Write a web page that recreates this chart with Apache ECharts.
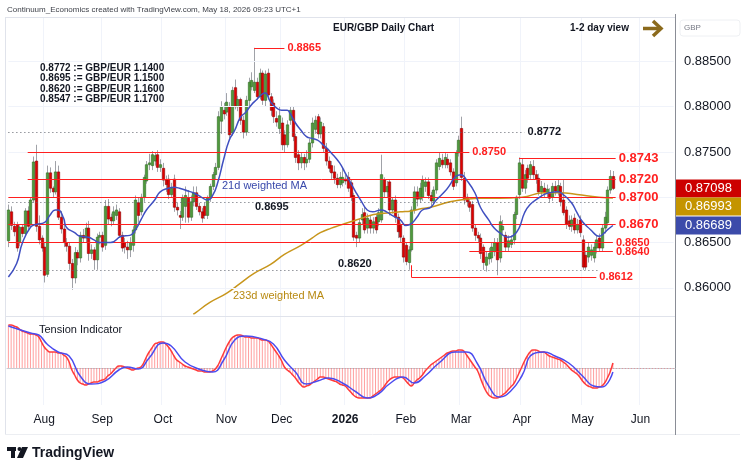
<!DOCTYPE html>
<html>
<head>
<meta charset="utf-8">
<script src="https://cdn.jsdelivr.net/npm/echarts@6/dist/echarts.min.js"></script>
<style>
  body { margin: 0; padding: 0; background: #fff; }
  #chart { width: 750px; height: 473px; }
</style>
</head>
<body>
<div id="chart"></div>
<script>
// EUR/GBP daily candles, one row per trading day from 15 Jul 2025: [open, high, low, close]
const ohlc = [
  [0.8652,0.8692,0.8645,0.8686],[0.8684,0.8690,0.8664,0.8669],[0.8668,0.8673,0.8657,0.8662],[0.8670,0.8673,0.8640,0.8644],[0.8650,0.8669,0.8646,0.8667],
  [0.8667,0.8670,0.8656,0.8660],[0.8660,0.8688,0.8657,0.8685],[0.8685,0.8690,0.8664,0.8668],[0.8670,0.8700,0.8666,0.8697],[0.8697,0.8745,0.8694,0.8739],
  [0.8740,0.8758,0.8662,0.8668],[0.8668,0.8680,0.8648,0.8653],[0.8655,0.8658,0.8640,0.8644],[0.8645,0.8650,0.8606,0.8614],[0.8615,0.8735,0.8612,0.8727],
  [0.8727,0.8733,0.8705,0.8710],[0.8710,0.8712,0.8700,0.8706],[0.8706,0.8740,0.8703,0.8728],[0.8728,0.8735,0.8675,0.8678],[0.8678,0.8685,0.8660,0.8665],
  [0.8665,0.8670,0.8645,0.8650],[0.8650,0.8655,0.8640,0.8646],[0.8646,0.8650,0.8620,0.8627],[0.8627,0.8632,0.8598,0.8611],[0.8611,0.8645,0.8605,0.8639],
  [0.8639,0.8642,0.8625,0.8633],[0.8633,0.8662,0.8628,0.8658],[0.8658,0.8665,0.8650,0.8655],[0.8655,0.8672,0.8650,0.8666],[0.8666,0.8674,0.8630,0.8638],
  [0.8638,0.8648,0.8632,0.8642],[0.8642,0.8645,0.8620,0.8631],[0.8631,0.8660,0.8620,0.8656],[0.8656,0.8662,0.8648,0.8658],[0.8658,0.8662,0.8640,0.8645],
  [0.8647,0.8697,0.8642,0.8690],[0.8690,0.8698,0.8670,0.8676],[0.8678,0.8682,0.8668,0.8674],[0.8674,0.8690,0.8670,0.8684],[0.8680,0.8692,0.8675,0.8686],
  [0.8684,0.8688,0.8655,0.8658],[0.8658,0.8662,0.8640,0.8644],[0.8650,0.8655,0.8638,0.8645],[0.8645,0.8652,0.8632,0.8642],[0.8642,0.8656,0.8634,0.8650],
  [0.8647,0.8668,0.8640,0.8664],[0.8664,0.8702,0.8660,0.8697],[0.8694,0.8700,0.8672,0.8680],[0.8684,0.8704,0.8680,0.8700],[0.8700,0.8725,0.8695,0.8722],
  [0.8718,0.8740,0.8715,0.8736],[0.8736,0.8748,0.8730,0.8738],[0.8735,0.8751,0.8730,0.8747],[0.8740,0.8750,0.8735,0.8746],[0.8747,0.8752,0.8728,0.8733],
  [0.8733,0.8742,0.8728,0.8736],[0.8732,0.8738,0.8712,0.8719],[0.8719,0.8724,0.8706,0.8714],[0.8720,0.8725,0.8698,0.8703],[0.8703,0.8716,0.8700,0.8710],
  [0.8720,0.8725,0.8684,0.8689],[0.8689,0.8694,0.8680,0.8686],[0.8680,0.8685,0.8665,0.8678],[0.8678,0.8703,0.8674,0.8699],[0.8690,0.8712,0.8672,0.8702],
  [0.8699,0.8708,0.8672,0.8678],[0.8678,0.8702,0.8674,0.8695],[0.8695,0.8712,0.8690,0.8705],[0.8705,0.8712,0.8686,0.8690],[0.8690,0.8694,0.8680,0.8684],
  [0.8684,0.8688,0.8672,0.8677],[0.8690,0.8694,0.8676,0.8680],[0.8680,0.8702,0.8676,0.8699],[0.8699,0.8715,0.8695,0.8712],[0.8712,0.8728,0.8708,0.8725],
  [0.8725,0.8738,0.8720,0.8733],[0.8733,0.8795,0.8730,0.8789],[0.8784,0.8806,0.8770,0.8800],[0.8796,0.8804,0.8786,0.8792],[0.8794,0.8815,0.8790,0.8805],
  [0.8800,0.8805,0.8765,0.8769],[0.8771,0.8822,0.8768,0.8818],[0.8821,0.8830,0.8797,0.8800],[0.8800,0.8812,0.8795,0.8808],[0.8808,0.8810,0.8780,0.8785],
  [0.8785,0.8790,0.8765,0.8772],[0.8772,0.8812,0.8768,0.8807],[0.8807,0.8832,0.8800,0.8827],[0.8822,0.8838,0.8818,0.8829],[0.8818,0.8865,0.8815,0.8827],
  [0.8827,0.8832,0.8808,0.8811],[0.8811,0.8842,0.8808,0.8837],[0.8837,0.8840,0.8802,0.8807],[0.8807,0.8840,0.8800,0.8836],[0.8837,0.8842,0.8808,0.8813],
  [0.8811,0.8815,0.8790,0.8796],[0.8804,0.8808,0.8782,0.8789],[0.8787,0.8795,0.8778,0.8783],[0.8776,0.8800,0.8770,0.8790],[0.8782,0.8788,0.8752,0.8758],
  [0.8769,0.8774,0.8750,0.8758],[0.8758,0.8785,0.8755,0.8780],[0.8785,0.8800,0.8780,0.8796],[0.8796,0.8800,0.8762,0.8767],[0.8767,0.8770,0.8738,0.8744],
  [0.8747,0.8752,0.8730,0.8738],[0.8738,0.8750,0.8732,0.8744],[0.8744,0.8748,0.8730,0.8738],[0.8738,0.8752,0.8733,0.8742],[0.8742,0.8765,0.8738,0.8760],
  [0.8760,0.8788,0.8755,0.8782],[0.8775,0.8790,0.8770,0.8785],[0.8789,0.8792,0.8765,0.8770],[0.8770,0.8788,0.8765,0.8783],[0.8778,0.8782,0.8750,0.8754],
  [0.8754,0.8760,0.8735,0.8740],[0.8740,0.8745,0.8728,0.8732],[0.8735,0.8740,0.8720,0.8727],[0.8728,0.8735,0.8715,0.8721],[0.8721,0.8726,0.8710,0.8714],
  [0.8714,0.8728,0.8710,0.8722],[0.8716,0.8732,0.8712,0.8722],[0.8720,0.8725,0.8714,0.8718],[0.8722,0.8728,0.8706,0.8710],[0.8716,0.8720,0.8696,0.8700],
  [0.8702,0.8705,0.8652,0.8656],[0.8658,0.8662,0.8645,0.8655],[0.8655,0.8676,0.8650,0.8672],[0.8675,0.8688,0.8670,0.8681],[0.8683,0.8690,0.8660,0.8664],
  [0.8666,0.8682,0.8660,0.8677],[0.8675,0.8680,0.8660,0.8666],[0.8666,0.8678,0.8660,0.8673],[0.8678,0.8682,0.8660,0.8664],[0.8673,0.8688,0.8668,0.8683],
  [0.8675,0.8747,0.8672,0.8725],[0.8719,0.8722,0.8700,0.8706],[0.8706,0.8718,0.8700,0.8712],[0.8717,0.8720,0.8680,0.8686],[0.8686,0.8700,0.8682,0.8697],
  [0.8697,0.8702,0.8672,0.8678],[0.8678,0.8682,0.8655,0.8662],[0.8669,0.8672,0.8650,0.8656],[0.8655,0.8658,0.8628,0.8634],[0.8647,0.8650,0.8625,0.8629],
  [0.8628,0.8646,0.8620,0.8642],[0.8642,0.8690,0.8640,0.8686],[0.8686,0.8712,0.8682,0.8706],[0.8706,0.8712,0.8690,0.8698],[0.8698,0.8716,0.8694,0.8710],
  [0.8700,0.8724,0.8696,0.8719],[0.8712,0.8722,0.8706,0.8717],[0.8717,0.8722,0.8698,0.8702],[0.8702,0.8706,0.8690,0.8696],[0.8696,0.8712,0.8692,0.8708],
  [0.8708,0.8742,0.8704,0.8738],[0.8734,0.8750,0.8730,0.8743],[0.8741,0.8748,0.8732,0.8736],[0.8736,0.8750,0.8732,0.8744],[0.8742,0.8748,0.8732,0.8736],
  [0.8738,0.8742,0.8724,0.8728],[0.8728,0.8732,0.8708,0.8712],[0.8716,0.8752,0.8712,0.8749],[0.8749,0.8768,0.8745,0.8763],[0.8776,0.8789,0.8718,0.8722],
  [0.8721,0.8728,0.8692,0.8697],[0.8700,0.8704,0.8690,0.8695],[0.8695,0.8698,0.8684,0.8689],[0.8692,0.8696,0.8662,0.8666],[0.8666,0.8670,0.8652,0.8658],
  [0.8658,0.8662,0.8650,0.8655],[0.8655,0.8660,0.8632,0.8638],[0.8645,0.8648,0.8620,0.8628],[0.8625,0.8640,0.8618,0.8634],[0.8632,0.8644,0.8626,0.8638],
  [0.8633,0.8650,0.8628,0.8645],[0.8640,0.8655,0.8635,0.8650],[0.8650,0.8655,0.8614,0.8631],[0.8633,0.8680,0.8628,0.8673],[0.8664,0.8675,0.8658,0.8668],
  [0.8658,0.8662,0.8640,0.8645],[0.8645,0.8658,0.8640,0.8652],[0.8648,0.8658,0.8644,0.8653],[0.8653,0.8684,0.8648,0.8681],[0.8681,0.8702,0.8676,0.8700],
  [0.8703,0.8744,0.8698,0.8738],[0.8736,0.8743,0.8706,0.8710],[0.8710,0.8730,0.8704,0.8725],[0.8732,0.8736,0.8716,0.8721],[0.8725,0.8740,0.8720,0.8736],
  [0.8734,0.8741,0.8720,0.8725],[0.8725,0.8730,0.8715,0.8720],[0.8721,0.8726,0.8702,0.8706],[0.8706,0.8718,0.8700,0.8712],[0.8710,0.8716,0.8700,0.8705],
  [0.8705,0.8714,0.8700,0.8709],[0.8705,0.8710,0.8694,0.8699],[0.8700,0.8716,0.8696,0.8712],[0.8712,0.8718,0.8702,0.8707],[0.8706,0.8720,0.8702,0.8713],
  [0.8712,0.8716,0.8690,0.8695],[0.8697,0.8719,0.8680,0.8683],[0.8686,0.8690,0.8665,0.8670],[0.8674,0.8680,0.8664,0.8668],[0.8668,0.8680,0.8662,0.8675],
  [0.8677,0.8682,0.8660,0.8664],[0.8664,0.8676,0.8660,0.8670],[0.8675,0.8680,0.8656,0.8661],[0.8653,0.8658,0.8620,0.8623],[0.8636,0.8640,0.8620,0.8623],
  [0.8634,0.8650,0.8628,0.8645],[0.8636,0.8648,0.8630,0.8642],[0.8633,0.8650,0.8628,0.8645],[0.8644,0.8658,0.8638,0.8653],[0.8655,0.8660,0.8640,0.8644],
  [0.8644,0.8670,0.8640,0.8666],[0.8666,0.8684,0.8660,0.8678],[0.8672,0.8712,0.8668,0.8708],[0.8708,0.8730,0.8704,0.8723],[0.8723,0.8729,0.8708,0.87098]
];

// 21d weighted MA, read at [bar index, value]
const ma21 = [
  [0,0.8612],[3,0.8627],[5,0.8649],[8,0.8667],[10,0.8670],[13,0.8672],[15,0.8680],[17,0.8686],[18,0.8686],[20,0.8677],
  [21,0.8667],[24,0.8661],[26,0.8657],[29,0.8656],[31,0.8653],[33,0.8650],[37,0.8650],[41,0.8657],[44,0.8658],[46,0.8664],
  [48,0.8675],[50,0.8686],[53,0.8697],[55,0.8706],[58,0.8710],[60,0.8711],[62,0.8710],[65,0.8707],[67,0.8705],[70,0.8700],
  [72,0.8697],[74,0.8702],[76,0.8718],[78,0.8742],[80,0.8763],[82,0.8774],[84,0.8788],[86,0.8794],[88,0.8802],[90,0.8808],
  [92,0.8814],[93,0.8815],[95,0.8805],[97,0.8799],[99,0.8796],[101,0.8796],[102,0.8793],[104,0.8782],[106,0.8774],[108,0.8767],
  [110,0.8765],[112,0.8763],[114,0.8758],[117,0.8749],[120,0.8738],[122,0.8727],[124,0.8716],[126,0.8705],[128,0.8695],[130,0.8686],
  [132,0.8684],[135,0.8686],[137,0.8684],[139,0.8680],[142,0.8675],[144,0.8669],[146,0.8671],[148,0.8678],[150,0.8686],[153,0.8689],
  [155,0.8697],[158,0.8706],[160,0.8714],[162,0.8723],[164,0.8725],[166,0.8719],[169,0.8705],[171,0.8689],[174,0.8675],[176,0.8666],
  [178,0.8661],[181,0.8656],[183,0.8658],[185,0.8666],[187,0.8683],[189,0.8692],[192,0.8699],[194,0.8703],[196,0.8705],[199,0.8706],
  [201,0.8703],[204,0.8694],[206,0.8683],[208,0.8673],[211,0.8664],[213,0.8658],[214,0.8657],[216,0.8661],[217,0.8664],[219,0.86689]
];

// 233d weighted MA, read at [bar index, value]
const ma233 = [
  [67,0.8571],[68,0.8573],[73,0.8584],[79,0.8594],[84,0.8605],[89,0.8616],[95,0.8626],[100,0.8637],[106,0.8647],[110,0.8655],
  [113,0.8661],[117,0.8666],[120,0.8669],[124,0.8673],[128,0.8677],[131,0.8680],[135,0.8682],[138,0.8683],[142,0.8684],[146,0.8685],
  [149,0.8687],[153,0.8689],[160,0.8695],[166,0.8698],[171,0.8699],[178,0.8699],[186,0.8700],[194,0.8705],[200,0.8705],[206,0.8703],
  [214,0.8700],[219,0.86993]
];

// Tension Indicator, one value per bar
const tension = [
  43,43,42,41,39,37,36,35,34,34,
  33,31,26,21,18,16,16,16,15,15,
  13,11,6,-2,-7,-12,-15,-16,-17,-16,
  -15,-14,-14,-13,-12,-11,-8,-6,-3,0,
  2,2,1,0,-1,-2,-1,0,1,5,
  11,16,20,24,25,26,26,24,21,17,
  12,8,6,4,2,1,0,-1,-2,-3,
  -3,-4,-4,-4,-3,-1,3,9,15,21,
  26,30,32,33,33,32,31,31,30,30,
  30,29,28,28,27,24,20,16,12,7,
  1,-2,-4,-7,-10,-14,-17,-19,-18,-17,
  -15,-13,-11,-9,-9,-10,-11,-12,-13,-14,
  -16,-17,-18,-21,-24,-27,-29,-30,-30,-30,
  -30,-30,-28,-26,-24,-22,-19,-15,-12,-10,
  -9,-9,-9,-10,-13,-16,-18,-15,-12,-10,
  -7,-3,0,3,5,7,9,11,13,15,
  16,17,17,18,18,17,13,9,5,1,
  -3,-10,-17,-23,-27,-29,-30,-30,-29,-27,
  -25,-22,-19,-16,-11,-5,1,7,12,16,
  18,18,17,16,16,14,12,11,10,9,
  8,6,4,1,-2,-4,-6,-9,-13,-16,
  -18,-19,-20,-20,-19,-18,-15,-10,-4,5
];

// Tension signal line, read at [bar index, value]
const tensionSignal = [
  [0,42],[8,35],[11,33],[14,24],[18,16],[22,12],[26,-8],[30,-16],[35,-13],[40,-2],
  [43,1],[47,-1],[51,10],[56,25],[59,22],[64,6],[70,-2],[74,-4],[78,8],[82,28],
  [86,32],[92,29],[96,24],[100,8],[104,-4],[108,-16],[112,-13],[116,-10],[121,-15],[126,-24],
  [130,-30],[134,-26],[138,-16],[143,-9],[147,-15],[151,-8],[156,5],[162,16],[166,16],[170,4],
  [174,-18],[178,-29],[182,-23],[186,-8],[190,14],[194,16],[198,12],[203,5],[208,-8],[212,-18],
  [215,-19],[219,-4]
];

const priceTicks = [0.860, 0.865, 0.870, 0.875, 0.880, 0.885];
const priceLabels = [0.860, 0.865, 0.875, 0.880, 0.885]; // 0.870 sits under the price tags
const monthTicks = ['Aug', 'Sep', 'Oct', 'Nov', 'Dec', '2026', 'Feb', 'Mar', 'Apr', 'May', 'Jun'];
const levelNotes = ['0.8772 := GBP/EUR 1.1400', '0.8695 := GBP/EUR 1.1500', '0.8620 := GBP/EUR 1.1600', '0.8547 := GBP/EUR 1.1700'];

// weekday calendar (data + empty space to mid June)
const dates = [];
for (let d = new Date(Date.UTC(2025, 6, 15)); dates.length < 242; d.setUTCDate(d.getUTCDate() + 1)) {
  const wd = d.getUTCDay();
  if (wd === 0 || wd === 6) continue;
  dates.push(d.toISOString().slice(0, 10));
}
const monthStart = i => i > 0 && dates[i].slice(5, 7) !== dates[i - 1].slice(5, 7);
const tickAt = {};
let m = 0;
dates.forEach((d, i) => { if (monthStart(i)) tickAt[i] = monthTicks[m++]; });

const FONT = '"Liberation Sans", Arial, sans-serif';
const RED = '#ff1f1f';
const chart = echarts.init(document.getElementById('chart'));

const lvl = (v, a, b, label, size) => [
  { coord: [a, v], lineStyle: { color: RED, width: 1, type: 'solid' },
    label: label ? { show: true, position: 'end', distance: 3, formatter: label, color: RED,
      fontWeight: 'bold', fontSize: size, fontFamily: FONT } : { show: false } },
  { coord: [b, v] }
];
const dots = (v, a, b, label) => [
  { coord: [a, v], lineStyle: { color: '#5d606b', width: 1, type: [1, 3] },
    label: label ? { show: true, position: 'end', distance: 3, formatter: label, color: '#131722',
      fontWeight: 'bold', fontSize: 11, fontFamily: FONT } : { show: false } },
  { coord: [b, v] }
];

chart.setOption({
  animation: false,
  backgroundColor: '#ffffff',
  grid: [
    { left: 7, right: 75, top: 17, height: 299 },
    { left: 7, right: 75, top: 316, height: 89 }
  ],
  xAxis: [
    { type: 'category', gridIndex: 0, data: dates, boundaryGap: true,
      axisLine: { show: false }, axisTick: { show: false }, axisLabel: { show: false },
      splitLine: { show: true, interval: monthStart, lineStyle: { color: '#f0f3fa' } } },
    { type: 'category', gridIndex: 1, data: dates, boundaryGap: true,
      axisLine: { show: true, lineStyle: { color: '#c9ccd3' } }, axisTick: { show: false },
      axisLabel: { interval: monthStart, margin: 9, color: '#131722', fontSize: 12, fontFamily: FONT,
        formatter: (v, i) => tickAt[i] === '2026' ? '{b|2026}' : (tickAt[i] || ''),
        rich: { b: { fontWeight: 'bold', fontSize: 12, color: '#131722', fontFamily: FONT } } },
      splitLine: { show: true, interval: monthStart, lineStyle: { color: '#f0f3fa' } } }
  ],
  yAxis: [
    { type: 'value', gridIndex: 0, position: 'right', min: 0.8569, max: 0.8899,
      axisLine: { show: false }, axisTick: { show: false }, splitLine: { show: false },
      axisLabel: { customValues: priceLabels, formatter: v => v.toFixed(5), color: '#131722',
        fontSize: 13, fontFamily: FONT, margin: 9 } },
    { type: 'value', gridIndex: 1, min: -37, max: 52, show: false }
  ],
  series: [
    { // grid lines + support / resistance levels
      type: 'line', xAxisIndex: 0, yAxisIndex: 0, data: [], silent: true, z: 1,
      markLine: {
        symbol: 'none', silent: true, animation: false,
        data: [
          ...priceTicks.map(v => [{ coord: [0, v], lineStyle: { color: '#f0f3fa', width: 1, type: 'solid' }, label: { show: false } }, { coord: [241, v] }]),
          dots(0.8772, 0, 187, '0.8772'),
          dots(0.8695, 0, 219, null),
          dots(0.8620, 0, 214, null),
          lvl(0.8865, 89, 100, '0.8865', 11),
          lvl(0.8750, 7, 167, '0.8750', 11),
          lvl(0.8743, 185, 220, '0.8743', 13),
          lvl(0.8720, 7, 220, '0.8720', 13),
          lvl(0.8700, 0, 220, '0.8700', 13),
          lvl(0.8670, 0, 220, '0.8670', 13),
          lvl(0.8650, 0, 219, '0.8650', 11),
          lvl(0.8640, 167, 219, '0.8640', 11),
          lvl(0.8625, 146, 146, null, 11).map((p, k) => k ? { coord: [146, 0.8612] } : p),
          lvl(0.8612, 146, 213, '0.8612', 11)
        ]
      }
    },
    {
      type: 'custom', xAxisIndex: 0, yAxisIndex: 0, z: 3,
      data: ohlc.map((r, i) => [i, r[0], r[1], r[2], r[3]]),
      encode: { x: 0, y: [1, 2, 3, 4] },
      renderItem: (params, api) => {
        const i = api.value(0);
        const o = api.value(1), h = api.value(2), l = api.value(3), c = api.value(4);
        const pO = api.coord([i, o]), pC = api.coord([i, c]);
        const pH = api.coord([i, h]), pL = api.coord([i, l]);
        const up = c >= o;
        const x = Math.round(pO[0]) + 0.5;
        const top = Math.min(pO[1], pC[1]), bot = Math.max(pO[1], pC[1]);
        return { type: 'group', children: [
          { type: 'line', shape: { x1: x, y1: pH[1], x2: x, y2: pL[1] }, style: { stroke: '#a0a2a8', lineWidth: 1 } },
          { type: 'rect', shape: { x: x - 1.2, y: top, width: 2.4, height: Math.max(bot - top, 1) },
            style: { fill: up ? '#4f9a3c' : '#e00000', stroke: up ? '#2f6a22' : '#8a0000', lineWidth: 0.6 } }
        ] };
      }
    },
    { type: 'line', xAxisIndex: 0, yAxisIndex: 0, data: ma233, smooth: true, showSymbol: false, z: 4,
      lineStyle: { color: '#c8961c', width: 1.5 } },
    { type: 'line', xAxisIndex: 0, yAxisIndex: 0, data: ma21, smooth: true, showSymbol: false, z: 5,
      lineStyle: { color: '#3f4fc0', width: 1.5 } },
    { type: 'bar', xAxisIndex: 1, yAxisIndex: 1, data: tension, barWidth: 1, z: 2,
      itemStyle: { color: 'rgba(255,80,80,0.55)' },
      markLine: { symbol: 'none', silent: true, animation: false,
        data: [[{ coord: [219, 0], lineStyle: { color: 'rgba(255,80,80,0.45)', type: [1, 2], width: 1 }, label: { show: false } }, { coord: [241, 0] }]] } },
    { type: 'line', xAxisIndex: 1, yAxisIndex: 1, data: tension, smooth: true, showSymbol: false, z: 3,
      lineStyle: { color: '#ff3b3b', width: 1.5 } },
    { type: 'line', xAxisIndex: 1, yAxisIndex: 1, data: tensionSignal, smooth: true, showSymbol: false, z: 4,
      lineStyle: { color: '#4b4bef', width: 1.5 } }
  ]
});

// annotations, frame and price tags
const txt = (x, y, text, font, fill) => ({ type: 'text', x, y, silent: true,
  style: { text, font, fill, textAlign: 'left', textVerticalAlign: 'middle' } });
const yOf = v => chart.convertToPixel({ yAxisIndex: 0 }, v);
const lastClose = ohlc[ohlc.length - 1][3];
const last21 = ma21[ma21.length - 1][1];
const last233 = ma233[ma233.length - 1][1];
const yClose = yOf(lastClose);
const y233 = Math.max(yOf(last233), yClose + 18);
const y21 = Math.max(yOf(last21), y233 + 19);
const tag = (y, value, color) => ({ type: 'group', x: 676, y: y - 9, z: 100, silent: true, children: [
  { type: 'rect', z: 100, shape: { x: 0, y: 0, width: 65, height: 18 }, style: { fill: color } },
  { type: 'text', z: 101, x: 32.5, y: 9, style: { text: value.toFixed(5), font: '13px ' + FONT, fill: '#ffffff', textAlign: 'center', textVerticalAlign: 'middle' } }
] });

chart.setOption({
  graphic: [
    { type: 'line', silent: true, shape: { x1: 5, y1: 17.5, x2: 675, y2: 17.5 }, style: { stroke: '#e0e3eb' } },
    { type: 'line', silent: true, shape: { x1: 5.5, y1: 17, x2: 5.5, y2: 435 }, style: { stroke: '#e0e3eb' } },
    { type: 'line', silent: true, shape: { x1: 5, y1: 316.5, x2: 675, y2: 316.5 }, style: { stroke: '#e0e3eb' } },
    { type: 'line', silent: true, shape: { x1: 5, y1: 434.5, x2: 740, y2: 434.5 }, style: { stroke: '#eceef2' } },
    { type: 'line', silent: true, shape: { x1: 675.5, y1: 14, x2: 675.5, y2: 435 }, style: { stroke: '#8a8d96' } },
    txt(7, 10, 'Continuum_Economics created with TradingView.com, May 18, 2026 09:23 UTC+1', '8px ' + FONT, '#3c3f47'),
    txt(333, 28, 'EUR/GBP Daily Chart', 'bold 10px ' + FONT, '#131722'),
    txt(570, 28, '1-2 day view', 'bold 10px ' + FONT, '#131722'),
    { type: 'polyline', silent: true, shape: { points: [[643, 28.5], [660, 28.5]] }, style: { stroke: '#8b6a1c', lineWidth: 3.5 } },
    { type: 'polyline', silent: true, shape: { points: [[653, 21], [661, 28.5], [653, 36]] }, style: { stroke: '#8b6a1c', lineWidth: 3.5, fill: null, lineJoin: 'miter' } },
    ...levelNotes.map((t, k) => txt(40, 68 + k * 10.5, t, 'bold 10px ' + FONT, '#131722')),
    txt(255, 207, '0.8695', 'bold 11px ' + FONT, '#131722'),
    txt(338, 264, '0.8620', 'bold 11px ' + FONT, '#131722'),
    txt(222, 186, '21d weighted MA', '11px ' + FONT, '#3949ab'),
    txt(233, 296, '233d weighted MA', '11px ' + FONT, '#b88a12'),
    txt(39, 330, 'Tension Indicator', '11px ' + FONT, '#131722'),
    { type: 'rect', silent: true, shape: { x: 680, y: 20, width: 60, height: 16, r: 3 }, style: { fill: '#ffffff', stroke: '#eef0f3' } },
    txt(684, 28, 'GBP', '8px ' + FONT, '#787b86'),
    tag(yClose, lastClose, '#cc0000'),
    tag(y233, last233, '#c49400'),
    tag(y21, last21, '#3c4baa'),
    { type: 'rect', silent: true, shape: { x: 7, y: 447, width: 9, height: 4 }, style: { fill: '#131722' } },
    { type: 'rect', silent: true, shape: { x: 11, y: 447, width: 4, height: 11 }, style: { fill: '#131722' } },
    { type: 'circle', silent: true, shape: { cx: 19.5, cy: 449, r: 2 }, style: { fill: '#131722' } },
    { type: 'polygon', silent: true, shape: { points: [[22, 447], [28, 447], [23, 458], [17, 458]] }, style: { fill: '#131722' } },
    txt(32, 453, 'TradingView', 'bold 14px ' + FONT, '#131722')
  ]
});
</script>
</body>
</html>
